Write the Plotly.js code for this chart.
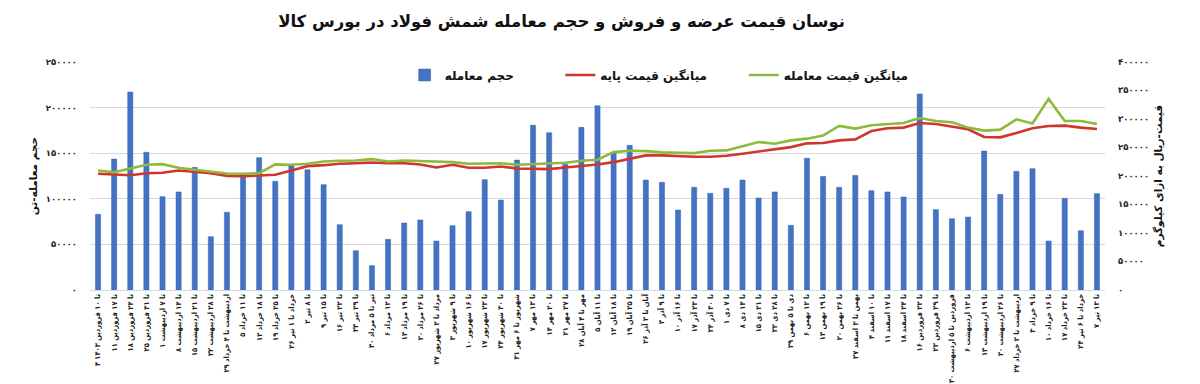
<!DOCTYPE html>
<html>
<head>
<meta charset="utf-8">
<script src="https://cdn.plot.ly/plotly-3.0.1.min.js"></script>
<style>html,body{margin:0;padding:0;background:#fff}#chart{width:1200px;height:384px}</style>
</head>
<body>
<div id="chart"></div>
<script>
const weeks = [
"۴ تا ۱۰ فروردین ۱۴۰۳","۱۱ تا ۱۷ فروردین","۱۸ تا ۲۴ فروردین","۲۵ تا ۳۱ فروردین",
"۱ تا ۷ اردیبهشت","۸ تا ۱۴ اردیبهشت","۱۵ تا ۲۱ اردیبهشت","۲۲ تا ۲۸ اردیبهشت",
"۲۹ اردیبهشت تا ۴ خرداد","۵ تا ۱۱ خرداد","۱۲ تا ۱۸ خرداد","۱۹ تا ۲۵ خرداد",
"۲۶ خرداد تا ۱ تیر","۲ تا ۸ تیر","۹ تا ۱۵ تیر","۱۶ تا ۲۲ تیر","۲۳ تا ۲۹ تیر",
"۳۰ تیر تا ۵ مرداد","۶ تا ۱۲ مرداد","۱۳ تا ۱۹ مرداد","۲۰ تا ۲۶ مرداد",
"۲۷ مرداد تا ۲ شهریور","۳ تا ۹ شهریور","۱۰ تا ۱۶ شهریور","۱۷ تا ۲۳ شهریور",
"۲۴ تا ۳۰ شهریور","۳۱ شهریور تا ۶ مهر","۷ تا ۱۳ مهر","۱۴ تا ۲۰ مهر","۲۱ تا ۲۷ مهر",
"۲۸ مهر تا ۴ آبان","۵ تا ۱۱ آبان","۱۲ تا ۱۸ آبان","۱۹ تا ۲۵ آبان","۲۶ آبان تا ۲ آذر",
"۳ تا ۹ آذر","۱۰ تا ۱۶ آذر","۱۷ تا ۲۳ آذر","۲۴ تا ۳۰ آذر","۱ تا ۷ دی","۸ تا ۱۴ دی",
"۱۵ تا ۲۱ دی","۲۲ تا ۲۸ دی","۲۹ دی تا ۵ بهمن","۶ تا ۱۲ بهمن","۱۳ تا ۱۹ بهمن",
"۲۰ تا ۲۶ بهمن","۲۷ بهمن تا ۳ اسفند","۴ تا ۱۰ اسفند","۱۱ تا ۱۷ اسفند","۱۸ تا ۲۴ اسفند",
"۱۶ تا ۲۲ فروردین","۲۳ تا ۲۹ فروردین","۳۰ فروردین تا ۵ اردیبهشت","۶ تا ۱۲ اردیبهشت",
"۱۳ تا ۱۹ اردیبهشت","۲۰ تا ۲۶ اردیبهشت","۲۷ اردیبهشت تا ۲ خرداد","۳ تا ۹ خرداد",
"۱۰ تا ۱۶ خرداد","۱۷ تا ۲۳ خرداد","۲۴ خرداد تا ۶ تیر","۷ تا ۱۳ تیر"
];
const volume = [
83000,143600,217100,151000,102300,107500,134500,58500,85200,124600,
145100,119200,136000,131900,115500,71600,43100,26700,55600,73500,
76800,53700,70500,85900,121000,98700,142500,180600,172500,137800,
178400,202100,149900,158600,120600,118100,87700,112600,106000,111500,
120600,100900,107500,70900,144400,124600,112600,125700,108900,107500,
102000,214900,88100,78200,80000,152400,104900,130100,133000,53700,
100500,65000,105600
];
const basePrice = [
203900,202600,201400,204900,205600,209700,207900,204900,200300,199600,
200900,202100,209700,217300,219000,221500,222500,223800,222500,222500,
220300,215000,219700,214400,214400,216700,213200,213200,212000,215000,
217000,220300,224300,229600,236100,236100,234300,233800,233800,235600,
239100,242600,246200,250700,257300,257800,262500,264300,278900,283700,
284900,293000,291300,287200,281900,268400,267800,275400,283700,287800,
288400,284900,282400
];
const tradePrice = [
209700,206700,213200,219700,220800,214400,210900,207900,204400,203900,
204900,220300,219700,221500,225500,226700,227300,229600,225500,227300,
226100,225000,224400,221500,221500,222500,219700,220800,221500,223200,
226700,228500,241900,244400,243700,241400,240900,240200,244400,244900,
252000,259600,256700,262500,265500,270800,287800,283100,289000,291300,
293000,301800,296600,294300,284900,279600,281400,299500,292000,335300,
296600,296600,291300
];
const leftTicks = [0,50000,100000,150000,200000,250000];
const leftTickText = ["۰","۵۰۰۰۰","۱۰۰۰۰۰","۱۵۰۰۰۰","۲۰۰۰۰۰","۲۵۰۰۰۰"];
const rightTicks = [0,50000,100000,150000,200000,250000,300000,350000,400000];
const rightTickText = ["۰","۵۰۰۰۰","۱۰۰۰۰۰","۱۵۰۰۰۰","۲۰۰۰۰۰","۲۵۰۰۰۰","۳۰۰۰۰۰","۳۵۰۰۰۰","۴۰۰۰۰۰"];

const FF = "DejaVu Sans, Noto Sans, sans-serif";
const FC = "DejaVu Sans Condensed, DejaVu Sans, sans-serif";

const traces = [
  {type:'bar', x:weeks, y:volume, name:'حجم معامله', yaxis:'y',
   marker:{color:'#4473C5', line:{color:'#3A64AE', width:0.5}}, legend:'legend'},
  {type:'scatter', mode:'lines', x:weeks, y:basePrice, name:'میانگین قیمت پایه', yaxis:'y2',
   line:{color:'#D1352B', width:2.6}, legend:'legend2'},
  {type:'scatter', mode:'lines', x:weeks, y:tradePrice, name:'میانگین قیمت معامله', yaxis:'y2',
   line:{color:'#8CBB3C', width:2.6}, legend:'legend3'}
];

const legFont = {family:FF, size:12, color:'#111', weight:'bold'};
const legY = (290-75)/228;
const layout = {
  width:1200, height:384,
  margin:{l:90, r:95, t:62, b:94, autoexpand:false},
  paper_bgcolor:'#fff', plot_bgcolor:'#fff',
  bargap:0.68,
  title:{text:'نوسان قیمت عرضه و فروش و حجم معامله شمش فولاد در بورس کالا',
         font:{family:FF, size:16.5, color:'#111', weight:'bold'},
         x:0.468, xanchor:'center', y:0.945, yanchor:'middle'},
  xaxis:{type:'category', tickangle:-90, tickfont:{family:FC, size:7.5, color:'#222', weight:'bold'},
         showgrid:false, showline:true, linecolor:'#d9d9d9', ticks:'', automargin:false},
  yaxis:{range:[0,250000], tickvals:leftTicks, ticktext:leftTickText, showgrid:true, gridcolor:'#d9d9d9',
         zeroline:false, tickfont:{family:FF, size:8.5, color:'#222', weight:'bold'}, ticklen:0, ticklabelstandoff:12,
         automargin:false,
         title:{text:'حجم معامله-تن', font:{family:FF, size:10.5, color:'#111', weight:'bold'}, standoff:6}},
  yaxis2:{range:[0,400000], tickvals:rightTicks, ticktext:rightTickText, overlaying:'y', side:'right',
          showgrid:false, zeroline:false, tickfont:{family:FF, size:8.5, color:'#222', weight:'bold'}, ticklabelstandoff:12,
          automargin:false,
          title:{text:'قیمت-ریال به ازای کیلوگرم', font:{family:FF, size:10.5, color:'#111', weight:'bold'}, standoff:6}},
  showlegend:true,
  legend:{x:372/1200, xanchor:'left', y:legY, yanchor:'middle', orientation:'h', font:legFont, bgcolor:'rgba(0,0,0,0)'},
  legend2:{x:556/1200, xanchor:'left', y:legY, yanchor:'middle', orientation:'h', font:legFont, bgcolor:'rgba(0,0,0,0)'},
  legend3:{x:773/1200, xanchor:'left', y:legY, yanchor:'middle', orientation:'h', font:legFont, bgcolor:'rgba(0,0,0,0)'}
};

Plotly.newPlot('chart', traces, layout, {displayModeBar:false, staticPlot:true});
</script>
</body>
</html>
